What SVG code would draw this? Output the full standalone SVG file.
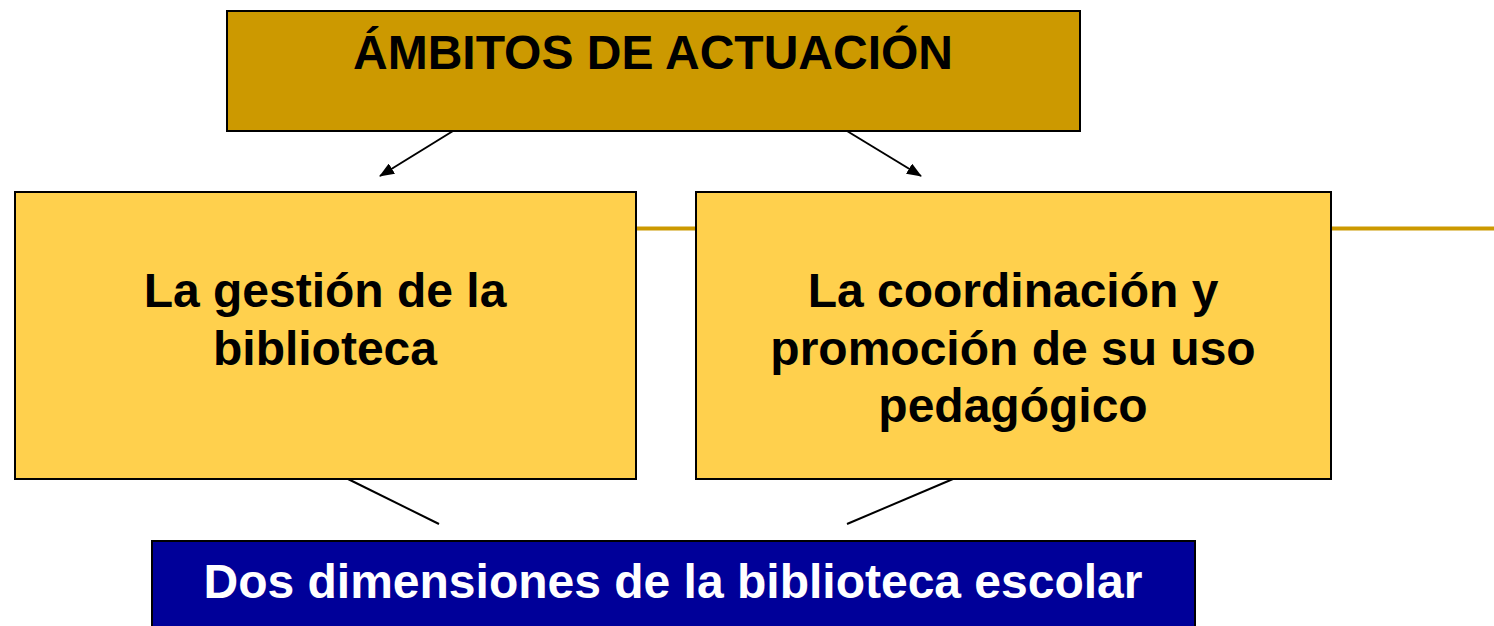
<svg xmlns="http://www.w3.org/2000/svg" width="1494" height="626" viewBox="0 0 1494 626">
<defs>
<style>
.box{stroke:#000;stroke-width:2}
.t{font-family:"Liberation Sans",Arial,sans-serif;font-weight:bold;font-size:48px;text-anchor:middle;fill:#000}
.conn{stroke:#000;stroke-width:2;fill:none}
</style>
<marker id="ah" markerWidth="15" markerHeight="12" refX="14" refY="6" orient="auto" markerUnits="userSpaceOnUse" viewBox="0 0 15 12">
<path d="M0,0 L15,6 L0,12 z" fill="#000"/>
</marker>
</defs>
<rect width="1494" height="626" fill="#fff"/>
<line x1="636" y1="228.5" x2="1494" y2="228.5" stroke="#CC9900" stroke-width="4"/>
<g id="connectors">
<line class="conn" x1="453" y1="131" x2="380" y2="176" marker-end="url(#ah)"/>
<line class="conn" x1="847" y1="131" x2="921" y2="176" marker-end="url(#ah)"/>
<line class="conn" x1="348" y1="479" x2="439" y2="524"/>
<line class="conn" x1="953" y1="479" x2="847" y2="524"/>
</g>
<g id="ambitos">
<rect class="box" x="227" y="11" width="853" height="120" fill="#CC9900"/>
<text class="t" x="653" y="69">ÁMBITOS DE ACTUACIÓN</text>
</g>
<g id="gestion">
<rect class="box" x="15" y="192" width="621" height="287" fill="#FFD04D"/>
<text class="t" x="325" y="307">La gestión de la</text>
<text class="t" x="325" y="365">biblioteca</text>
</g>
<g id="coordinacion">
<rect class="box" x="696" y="192" width="635" height="287" fill="#FFD04D"/>
<text class="t" x="1013" y="307">La coordinación y</text>
<text class="t" x="1013" y="365">promoción de su uso</text>
<text class="t" x="1013" y="422">pedagógico</text>
</g>
<g id="dimensiones">
<rect class="box" x="152" y="541" width="1043" height="90" fill="#000099"/>
<text class="t" x="673" y="598" style="fill:#fff">Dos dimensiones de la biblioteca escolar</text>
</g>
</svg>
